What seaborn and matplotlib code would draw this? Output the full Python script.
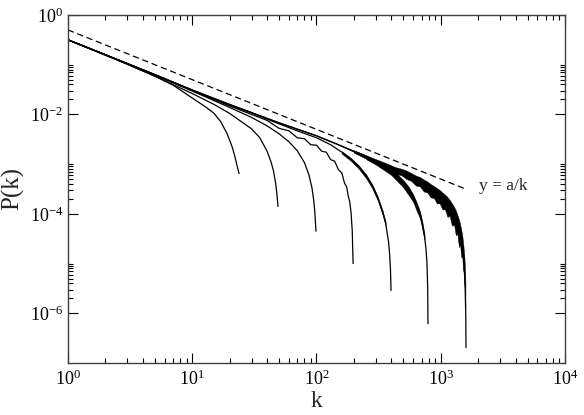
import matplotlib
matplotlib.use('Agg')
import matplotlib.pyplot as plt
import matplotlib.ticker as mticker
import seaborn as sns
import numpy as np

# log10 P(k), one curve per system size
k1 = [1, 2, 3, 5, 7, 10, 13, 15, 17, 19, 20, 21, 22, 23, 23.8]
lp1 = [-0.50, -0.81, -0.99, -1.23, -1.41, -1.67, -1.86, -1.98, -2.15, -2.38, -2.52, -2.66, -2.84, -3.04, -3.19]

k2 = [1, 2, 5, 10, 15, 20, 25, 30, 35, 40, 43, 45, 47, 48, 49]
lp2 = [-0.50, -0.80, -1.23, -1.58, -1.80, -1.98, -2.15, -2.29, -2.47, -2.74, -2.95, -3.13, -3.40, -3.60, -3.85]

k3 = [1, 2, 5, 10, 20, 30, 40, 50, 60, 70, 80, 87, 92, 95, 97, 99]
lp3 = [-0.50, -0.80, -1.21, -1.53, -1.86, -2.06, -2.23, -2.39, -2.55, -2.73, -2.97, -3.22, -3.48, -3.73, -3.97, -4.35]

k4 = [1, 2, 5, 10, 20, 30, 40, 50, 60, 70, 80, 90, 100, 110, 120, 130, 140, 150, 160, 168, 175, 180, 185, 190, 194, 197]
lp4 = [-0.50, -0.80, -1.20, -1.52, -1.83, -2.00, -2.12, -2.28, -2.33, -2.47, -2.49, -2.61, -2.62, -2.74, -2.76,
       -2.91, -2.94, -3.11, -3.18, -3.38, -3.46, -3.64, -3.75, -3.99, -4.35, -5.00]

k5 = [1, 2, 5, 10, 20, 30, 50, 70, 100, 130, 160, 190, 220, 250, 280, 310, 340, 360, 380, 388, 394, 398]
lp5 = [-0.50, -0.80, -1.20, -1.51, -1.81, -1.97, -2.19, -2.33, -2.47, -2.61, -2.76, -2.90, -3.06, -3.23, -3.43,
       -3.67, -3.96, -4.19, -4.56, -4.82, -5.13, -5.54]

k6 = [1, 2, 5, 10, 20, 50, 100, 150, 200, 250, 300, 350, 400, 450, 500, 550, 600, 650, 680, 710, 740, 760, 775, 785, 789]
lp6 = [-0.50, -0.80, -1.20, -1.51, -1.80, -2.17, -2.43, -2.61, -2.75, -2.86, -2.96, -3.05, -3.14, -3.25, -3.37,
       -3.50, -3.66, -3.85, -4.00, -4.20, -4.45, -4.70, -5.00, -5.50, -6.21]

k7 = [1, 2, 5, 10, 20, 50, 100, 150, 200, 300, 400, 500, 600, 700, 800, 900, 1000, 1100, 1200, 1300, 1400,
      1450, 1500, 1540, 1570, 1590, 1596]
lp7 = [-0.50, -0.80, -1.20, -1.51, -1.80, -2.17, -2.43, -2.61, -2.74, -2.93, -3.07, -3.15, -3.26, -3.35, -3.45,
       -3.54, -3.63, -3.73, -3.85, -3.99, -4.22, -4.39, -4.65, -5.01, -5.46, -6.07, -6.69]

# spread of the noisy tails (upper / lower edge, log10)
k5n = [160, 190, 220, 250, 280, 310, 340, 360]
up5 = [-2.74, -2.88, -3.03, -3.20, -3.40, -3.64, -3.93, -4.16]
lo5 = [-2.79, -2.94, -3.10, -3.28, -3.48, -3.72, -4.01, -4.23]

k6n = [250, 300, 350, 400, 450, 500, 550, 600, 640, 680, 710, 740]
up6 = [-2.84, -2.93, -3.02, -3.10, -3.21, -3.32, -3.45, -3.61, -3.77, -3.95, -4.15, -4.41]
lo6 = [-2.90, -3.01, -3.12, -3.22, -3.35, -3.47, -3.62, -3.76, -3.94, -4.09, -4.30, -4.52]

k7n = [200, 240, 280, 330, 380, 430, 480, 530, 580, 630, 680, 730, 780, 830, 880, 930, 980,
       1030, 1080, 1130, 1180, 1230, 1280, 1320, 1360, 1400, 1430, 1460, 1490, 1510, 1530, 1550, 1565, 1580]
up7 = [-2.72, -2.80, -2.87, -2.94, -3.00, -3.06, -3.09, -3.13, -3.18, -3.23, -3.26, -3.31, -3.35, -3.40, -3.44,
       -3.48, -3.52, -3.57, -3.61, -3.66, -3.72, -3.79, -3.86, -3.93, -4.02, -4.11, -4.20, -4.31, -4.44, -4.56,
       -4.71, -4.87, -5.09, -5.38]
lo7 = [-2.77, -2.87, -2.94, -3.04, -3.10, -3.20, -3.22, -3.30, -3.34, -3.43, -3.45, -3.55, -3.57, -3.67, -3.68,
       -3.79, -3.79, -3.91, -3.91, -4.06, -4.04, -4.24, -4.21, -4.43, -4.40, -4.67, -4.61, -4.87, -4.87, -5.12,
       -5.17, -5.43, -5.55, -5.90]

# reference line y = a/k
dash_k = [1, 1630]
dash_p = [0.5, 3.07e-4]

sns.set_style('ticks')
plt.rcParams['font.family'] = ['Liberation Serif', 'DejaVu Serif']
plt.rcParams['mathtext.fontset'] = 'stix'
plt.rcParams['axes.unicode_minus'] = False

fig, ax = plt.subplots(figsize=(5.84, 4.15), dpi=100)
fig.subplots_adjust(left=0.1164, right=0.9675, bottom=0.1253, top=0.9639)
ax.set_xscale('log')
ax.set_yscale('log')

for k, lp in [(k1, lp1), (k2, lp2), (k3, lp3), (k4, lp4), (k5, lp5), (k6, lp6), (k7, lp7)]:
    sns.lineplot(x=k, y=10 ** np.array(lp), ax=ax, color='black', lw=0.9, estimator=None, sort=False)

for k, up, lo in [(k5n, up5, lo5), (k6n, up6, lo6), (k7n, up7, lo7)]:
    ax.fill_between(k, 10 ** np.array(lo), 10 ** np.array(up), color='black', lw=0.3)

sns.lineplot(x=dash_k, y=dash_p, ax=ax, color='black', lw=0.9, linestyle=(0, (5, 3)))
ax.text(2050, 3.7e-4, 'y = a/k', fontsize=12.5, va='center', ha='left')

ax.set_xlim(1, 1e4)
ax.set_ylim(1e-7, 1)
ax.xaxis.set_major_locator(mticker.LogLocator(base=10, numticks=10))
ax.xaxis.set_minor_locator(mticker.LogLocator(base=10, subs=np.arange(2, 10), numticks=20))
ax.xaxis.set_minor_formatter(mticker.NullFormatter())
ax.yaxis.set_major_locator(mticker.FixedLocator([1, 1e-2, 1e-4, 1e-6]))
ymin = []
for e in (-1, -3, -5):
    ymin.append(10.0 ** e)
    ymin += [j * 10.0 ** (e - 1) for j in range(2, 10)]
ax.yaxis.set_minor_locator(mticker.FixedLocator(ymin))
ax.yaxis.set_minor_formatter(mticker.NullFormatter())
ax.yaxis.set_major_formatter(mticker.LogFormatterMathtext())

ax.tick_params(which='both', direction='in', top=True, right=True, width=0.8, colors='black', labelsize=13)
ax.tick_params(which='major', length=7)
ax.tick_params(which='minor', length=3.5)
ax.tick_params(axis='x', which='major', pad=5)
for s in ax.spines.values():
    s.set_color('0.25')
    s.set_linewidth(1.0)

ax.set_xlabel('k', fontsize=17, labelpad=1)
ax.set_ylabel('P(k)', fontsize=18, labelpad=4)

fig.savefig('out.png', dpi=100)
